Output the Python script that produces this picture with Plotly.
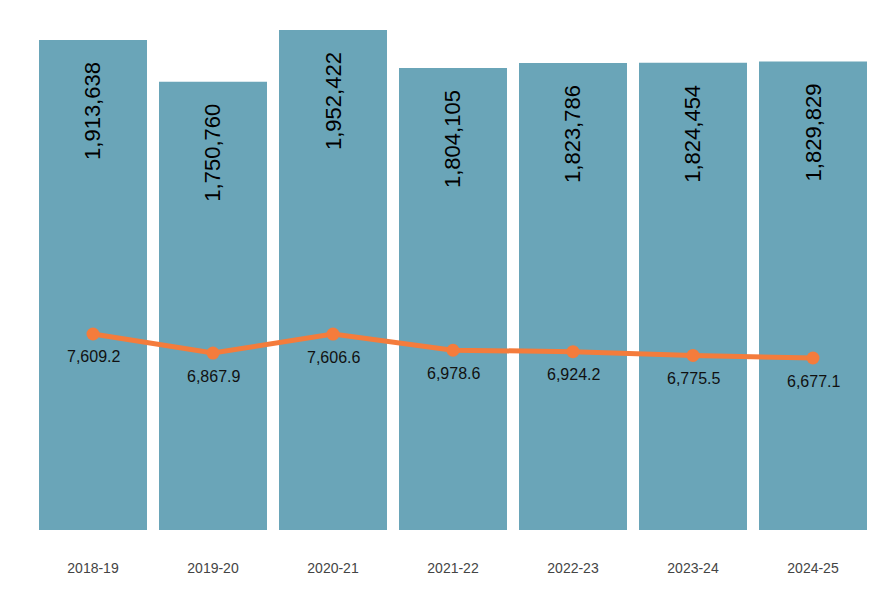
import plotly.graph_objects as go

years = ["2018-19", "2019-20", "2020-21", "2021-22", "2022-23", "2023-24", "2024-25"]
bar_values = [1913638, 1750760, 1952422, 1804105, 1823786, 1824454, 1829829]
line_values = [7609.2, 6867.9, 7606.6, 6978.6, 6924.2, 6775.5, 6677.1]

bar_color = "#6aa5b8"
line_color = "#f47c3c"
font_fam = "Liberation Sans, Arial"

fig = go.Figure()
fig.add_trace(go.Bar(
    x=years, y=bar_values, marker=dict(color=bar_color, line=dict(width=0)),
    hoverinfo="skip", showlegend=False,
))
fig.add_trace(go.Scatter(
    x=years, y=line_values, yaxis="y2", mode="lines+markers",
    line=dict(color=line_color, width=5), marker=dict(color=line_color, size=13),
    showlegend=False,
))
for x, v in zip(years, bar_values):
    fig.add_annotation(
        x=x, y=v, xref="x", yref="y", text=f"{v:,}", textangle=-90,
        showarrow=False, yanchor="top", yshift=-20,
        font=dict(family=font_fam, size=22, color="#000"),
    )
for x, v in zip(years, line_values):
    fig.add_annotation(
        x=x, y=v, xref="x", yref="y2", text=f"{v:,.1f}",
        showarrow=False, yanchor="middle", yshift=-23,
        font=dict(family=font_fam, size=16, color="#111"),
    )

fig.update_layout(
    width=890, height=600,
    margin=dict(l=33, r=17, t=30, b=70),
    paper_bgcolor="white", plot_bgcolor="white",
    bargap=0.1,
    xaxis=dict(showgrid=False, showline=False, zeroline=False, ticks="outside",
               ticklen=25, tickcolor="rgba(0,0,0,0)",
               tickfont=dict(family=font_fam, size=14, color="#444")),
    yaxis=dict(range=[0, 1952422], visible=False),
    yaxis2=dict(range=[0, 19410], overlaying="y", visible=False),
)

fig.write_html("out.html")
